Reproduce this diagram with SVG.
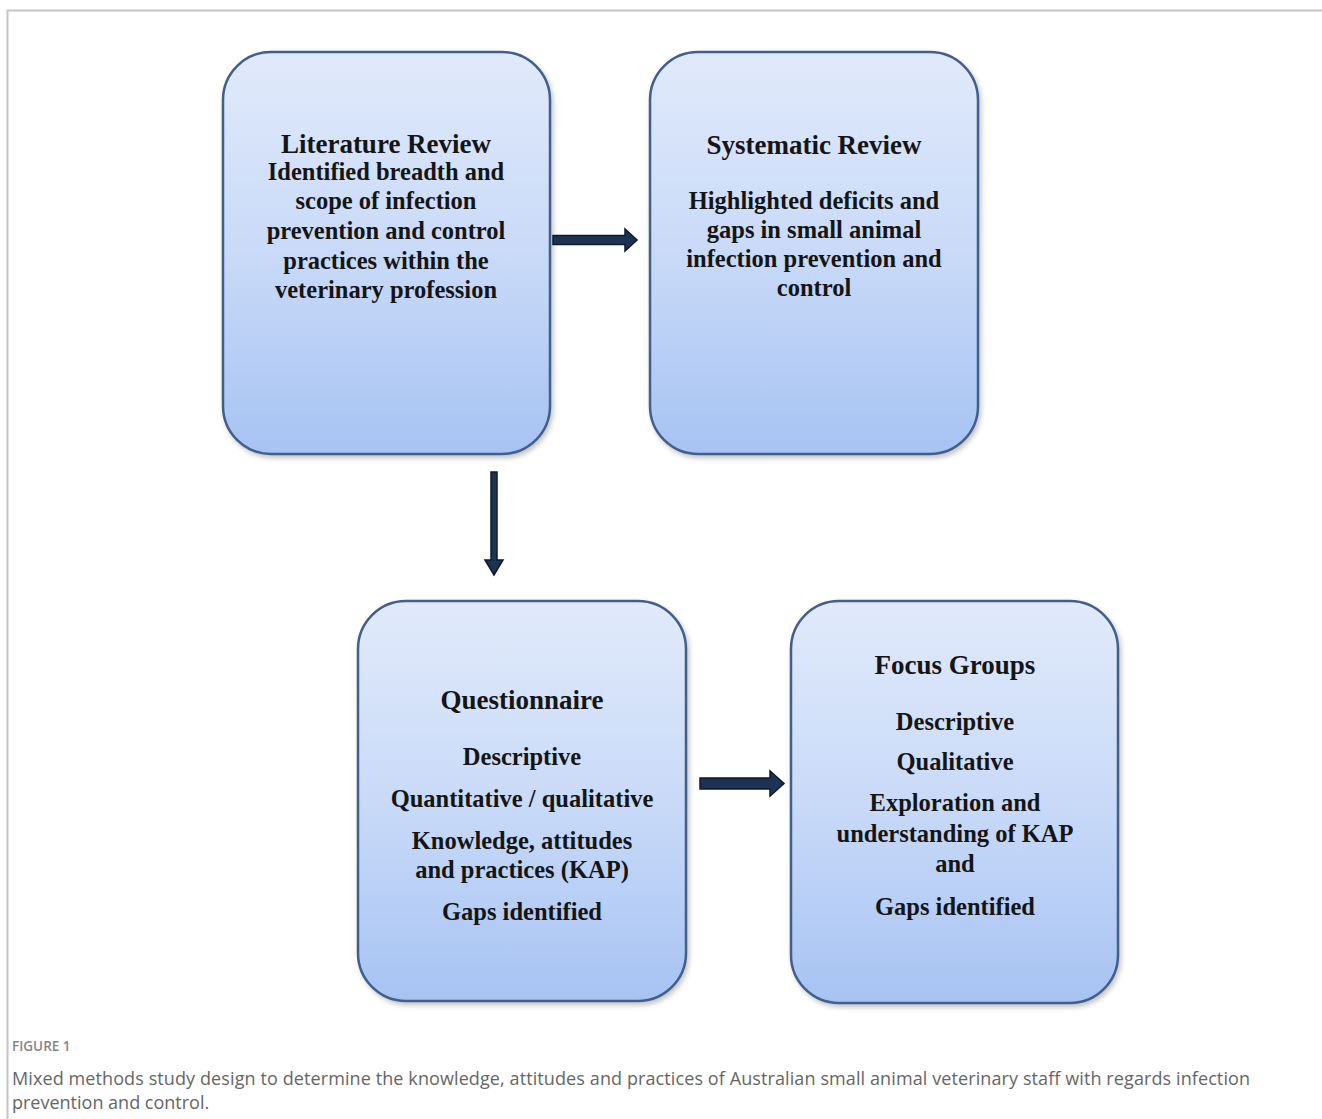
<svg xmlns="http://www.w3.org/2000/svg" width="1322" height="1119" viewBox="0 0 1322 1119">
<defs>
<linearGradient id="boxGrad" x1="0" y1="0" x2="0" y2="1">
<stop offset="0" stop-color="#e1eafb"/>
<stop offset="0.5" stop-color="#c9daf8"/>
<stop offset="1" stop-color="#a7c3f3"/>
</linearGradient>
<filter id="shadow" x="-10%" y="-10%" width="125%" height="125%">
<feDropShadow dx="2" dy="3" stdDeviation="2.5" flood-color="#7a7a7a" flood-opacity="0.45"/>
</filter>
<style>
.box{fill:url(#boxGrad);stroke:#3f5f8c;stroke-width:2.5;filter:url(#shadow)}
.t{font-family:"Liberation Serif","Times New Roman",serif;font-weight:bold;fill:#151515;text-anchor:middle}
.title{font-size:27px}
.body{font-size:24.5px}
.arrow{fill:#1d3354;stroke:#0e1a2e;stroke-width:1.5;stroke-linejoin:miter}
.frame{stroke:#c4c4c4;stroke-width:2;fill:none}
.figlabel{font-family:"Open Sans","Noto Sans",sans-serif;font-size:13.5px;font-weight:600;fill:#858585}
.caption{font-family:"Open Sans","Noto Sans",sans-serif;font-size:18px;fill:#666}
</style>
</defs>
<rect width="1322" height="1119" fill="#ffffff"/>
<g id="frame">
<path class="frame" d="M7.5,1119 V10.5 H1322"/>
</g>

<g id="literature-review">
<rect class="box" x="223" y="52" width="327" height="402" rx="48" ry="48"/>
<text class="t title" x="386" y="153">Literature Review</text>
<text class="t body" x="386" y="180">Identified breadth and</text>
<text class="t body" x="386" y="209">scope of infection</text>
<text class="t body" x="386" y="239">prevention and control</text>
<text class="t body" x="386" y="269">practices  within the</text>
<text class="t body" x="386" y="298">veterinary profession</text>
</g>

<g id="systematic-review">
<rect class="box" x="650" y="52" width="328" height="402" rx="48" ry="48"/>
<text class="t title" x="814" y="154">Systematic Review</text>
<text class="t body" x="814" y="209">Highlighted deficits and</text>
<text class="t body" x="814" y="238">gaps in small animal</text>
<text class="t body" x="814" y="267">infection prevention and</text>
<text class="t body" x="814" y="296">control</text>
</g>

<g id="questionnaire">
<rect class="box" x="358" y="601" width="328" height="400" rx="48" ry="48"/>
<text class="t title" x="522" y="709">Questionnaire</text>
<text class="t body" x="522" y="765">Descriptive</text>
<text class="t body" x="522" y="807">Quantitative / qualitative</text>
<text class="t body" x="522" y="849">Knowledge, attitudes</text>
<text class="t body" x="522" y="878">and practices  (KAP)</text>
<text class="t body" x="522" y="920">Gaps identified</text>
</g>

<g id="focus-groups">
<rect class="box" x="791" y="601" width="327" height="402" rx="48" ry="48"/>
<text class="t title" x="955" y="674">Focus Groups</text>
<text class="t body" x="955" y="730">Descriptive</text>
<text class="t body" x="955" y="770">Qualitative</text>
<text class="t body" x="955" y="811">Exploration and</text>
<text class="t body" x="955" y="842">understanding of KAP</text>
<text class="t body" x="955" y="872">and</text>
<text class="t body" x="955" y="915">Gaps identified</text>
</g>

<g id="connectors">
<path class="arrow" d="M553,235.5 H625 V229 L637,240 L625,251 V244.5 H553 Z"/>
<path class="arrow" d="M491,472 H497 V560 H503 L494,575 L485,560 H491 Z"/>
<path class="arrow" d="M700,778 H770 V771 L784,783.5 L770,796 V789 H700 Z"/>
</g>

<g id="caption">
<text class="figlabel" x="12" y="1051">FIGURE 1</text>
<text class="caption" x="12" y="1085" textLength="1238" lengthAdjust="spacing">Mixed methods study design to determine the knowledge, attitudes and practices of Australian small animal veterinary staff with regards infection</text>
<text class="caption" x="12" y="1109">prevention and control.</text>
</g>
</svg>
